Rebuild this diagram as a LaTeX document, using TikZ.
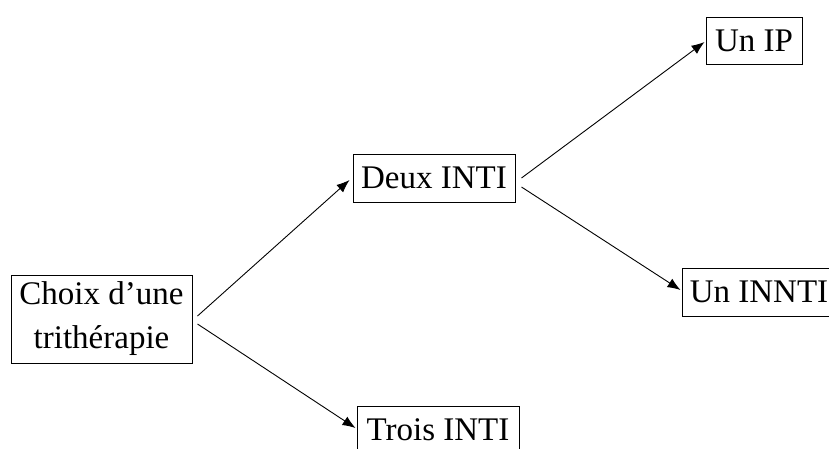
\documentclass[tikz,border=0pt]{standalone}
\usepackage{fontspec}
\setmainfont{Liberation Serif}
\usetikzlibrary{arrows.meta}
\begin{document}
\begin{tikzpicture}[x=1pt,y=-1pt,
  box/.style={draw,line width=1pt,inner sep=0pt,anchor=center,
    font=\fontsize{33}{44}\selectfont,align=center},
  arr/.style={line width=0.9pt,-{Latex[length=13pt,width=10pt]}}]
  \useasboundingbox (0,0) rectangle (829,448);
  % decision boxes
  \node[box,minimum width=181pt,minimum height=88pt] (choix) at (101.5,319) {Choix d’une\\trithérapie};
  \node[box,minimum width=162pt,minimum height=48pt] (deux) at (434,178) {Deux INTI};
  \node[box,minimum width=162pt,minimum height=48pt] (trois) at (438,430) {Trois INTI};
  \node[box,minimum width=96pt,minimum height=47pt] (ip) at (754,40.5) {Un IP};
  \node[box,minimum width=154pt,minimum height=48pt] (innti) at (759,292) {Un INNTI};
  % branches
  \draw[arr] ([shift={(5,-3)}]choix.east) -- ([shift={(-3,2)}]deux.west);
  \draw[arr] ([shift={(5,5)}]choix.east) -- ([shift={(-1,-2)}]trois.west);
  \draw[arr] ([shift={(6,0)}]deux.east) -- ([shift={(-1,1.5)}]ip.west);
  \draw[arr] ([shift={(6,9)}]deux.east) -- ([shift={(-1,-2)}]innti.west);
\end{tikzpicture}
\end{document}
